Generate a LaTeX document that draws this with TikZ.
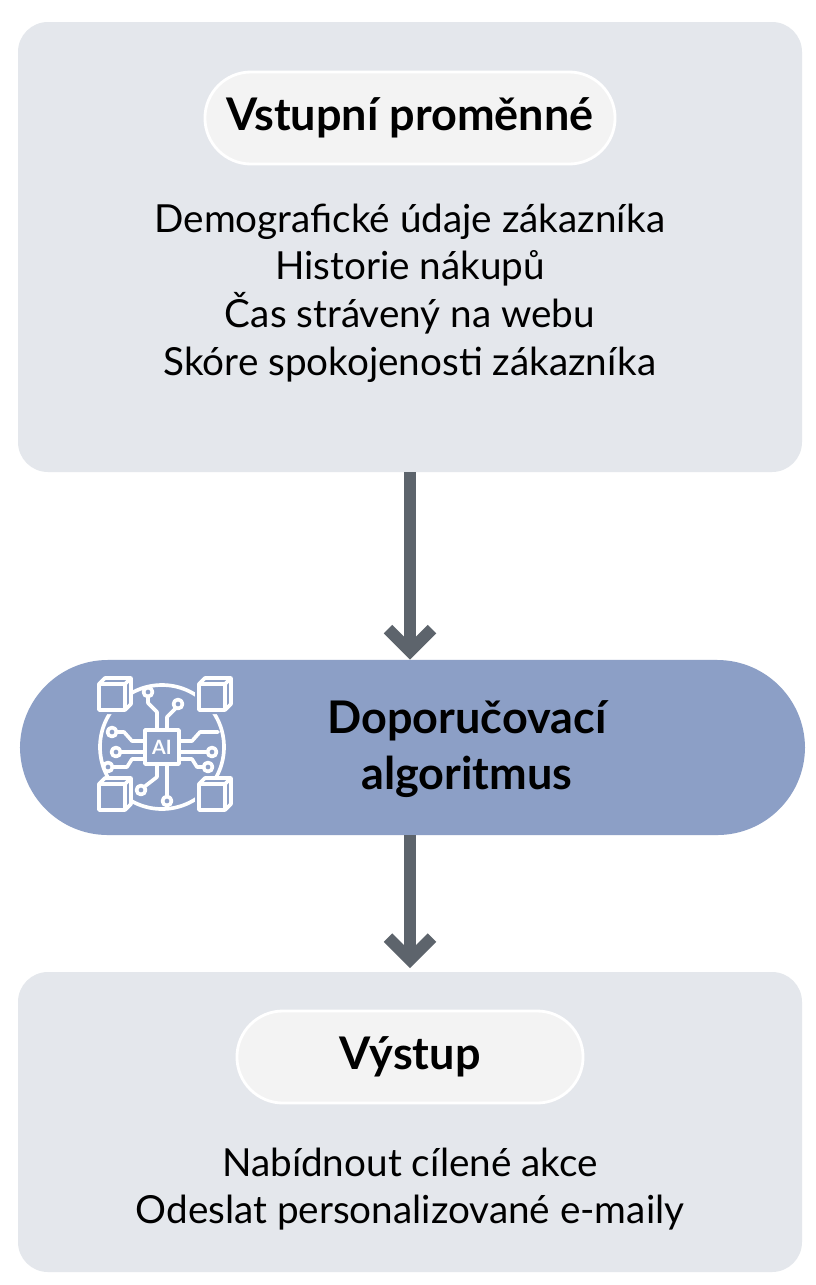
\documentclass[tikz,border=0pt]{standalone}
\usepackage{fontspec}
\setmainfont{Lato}
\usetikzlibrary{arrows.meta}
\definecolor{boxgray}{HTML}{E4E7EC}
\definecolor{pillgray}{HTML}{F3F3F3}
\definecolor{algblue}{HTML}{8C9FC6}
\definecolor{arrowgray}{HTML}{5D646C}
\tikzset{
  panel/.style={fill=boxgray, draw=none, rounded corners=0.75cm},
  title/.style={fill=pillgray, draw=white, line width=2pt, rounded corners=1.15cm,
    minimum width=10.25cm, minimum height=2.3cm, font=\fontsize{32}{38}\selectfont\bfseries},
  body/.style={align=center, font=\fontsize{27.5}{34}\selectfont},
  flow/.style={arrowgray, line width=0.3cm, -{Straight Barb[length=0.55cm,width=1.1cm,line width=0.3cm]}},
  chip/.style={white, line width=2.6pt, line cap=round, line join=round}
}
\begin{document}
\begin{tikzpicture}[x=0.025cm, y=-0.025cm]
\useasboundingbox (0,0) rectangle (816,1285);
\fill[white] (0,0) rectangle (816,1285);

% input panel
\fill[panel] (18,22) rectangle (802,472);
\node[title] (inp) at (410,118) {Vstupní proměnné};
\node[body] (vars) at (410,293) {Demografické údaje zákazníka\\Historie nákupů\\Čas strávený na webu\\Skóre spokojenosti zákazníka};
\coordinate (inbot) at (410,472);

% algorithm
\node[fill=algblue, rounded corners=2.2cm, minimum width=19.62cm, minimum height=4.375cm] (alg) at (412.5,747.5) {};
\node[align=center, font=\fontsize{32}{40}\selectfont\bfseries] (algtext) at (467,749) {Doporučovací\\algoritmus};

% icon
\begin{scope}[shift={(162,747)}]
  \draw[chip] (0,0) circle (62);
  \fill[algblue] (-72,-72) rectangle (-33,-33) (33,-72) rectangle (72,-33)
    (-72,33) rectangle (-33,72) (33,33) rectangle (72,72);
  \foreach \sx/\sy in {-1/-1,1/-1,-1/1,1/1}{
    \draw[chip, fill=algblue] (\sx*50-13,\sy*50-13) rectangle (\sx*50+13,\sy*50+13);
    \draw[chip] (\sx*50-13,\sy*50-13) -- (\sx*50-7,\sy*50-19) -- (\sx*50+19,\sy*50-19) -- (\sx*50+19,\sy*50+7) -- (\sx*50+13,\sy*50+13)
      (\sx*50+13,\sy*50-13) -- (\sx*50+19,\sy*50-19);
  }
  \draw[chip, fill=algblue] (-17,-17) rectangle (17,17);
  \node[white, font=\fontsize{14}{14}\selectfont\bfseries] (ai) at (0,0) {AI};
  \draw[chip] (-5,-17) -- (-5,-35) -- (-14,-44) -- (-14,-51)
    (5,-17) -- (5,-30) -- (14,-39)
    (-5,17) -- (-5,30) -- (-18,40)
    (5,17) -- (5,50)
    (-17,-6) -- (-30,-6) -- (-38,-15) -- (-46,-15)
    (-17,5) -- (-42,5)
    (-17,12) -- (-30,12) -- (-35,20) -- (-50,20)
    (17,-6) -- (30,-6) -- (38,-15) -- (56,-15)
    (17,5) -- (46,5)
    (17,12) -- (30,12) -- (35,20) -- (42,20);
  \foreach \px/\py in {-14/-55,16/-43,-21/43,5/54,-50/-15,-46/5,-54/20,50/5,46/20}
    \draw[chip, fill=algblue] (\px,\py) circle (4.5);
\end{scope}

% output panel
\fill[panel] (18,972) rectangle (802,1272);
\node[title, minimum width=8.65cm] (out) at (410,1057) {Výstup};
\node[body] (acts) at (410,1189) {Nabídnout cílené akce\\Odeslat personalizované e-maily};
\coordinate (outtop) at (410,968);

% arrows
\draw[flow] (inbot) -- (alg.north -| inbot);
\draw[flow] (alg.south -| inbot) -- (outtop);
\end{tikzpicture}
\end{document}
